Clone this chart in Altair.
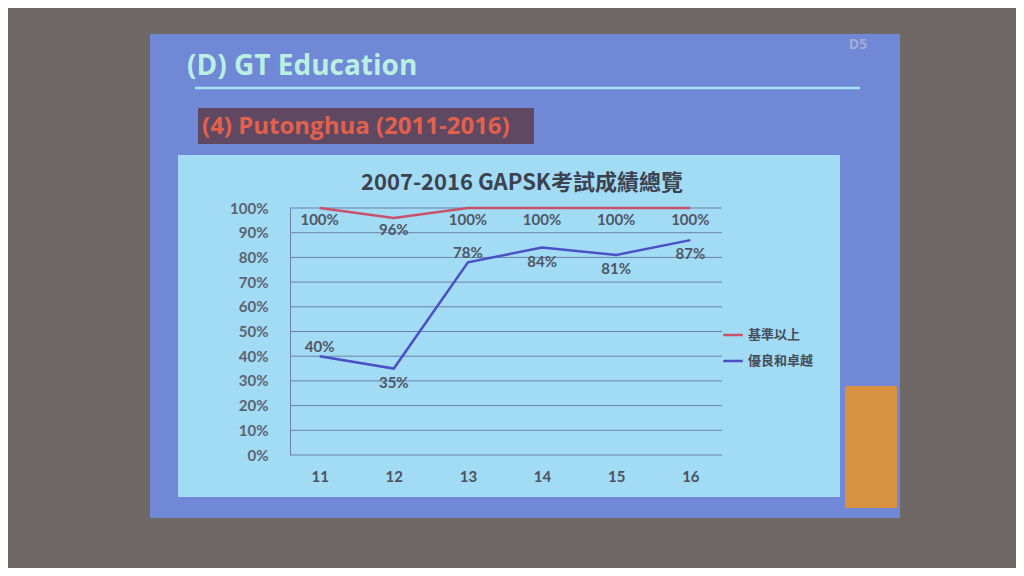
import altair as alt
import pandas as pd

# ---- data ----
years = ["11", "12", "13", "14", "15", "16"]
series_names = ["基準以上", "優良和卓越"]
basic_pct = [100, 96, 100, 100, 100, 100]
excellent_pct = [40, 35, 78, 84, 81, 87]
y_ticks = [0, 10, 20, 30, 40, 50, 60, 70, 80, 90, 100]

chart_title = "2007-2016 GAPSK考試成績總覽"
slide_title = "(D) GT Education"
slide_subtitle = "(4) Putonghua (2011-2016)"
slide_number = "D5"

rows = []
for name, vals in zip(series_names, [basic_pct, excellent_pct]):
    for yr, v in zip(years, vals):
        rows.append({"year": yr, "series": name, "value": v, "label": f"{v}%"})
df = pd.DataFrame(rows)
grid_df = pd.DataFrame({"v": y_ticks})
one = pd.DataFrame({"k": [0]})

W, H = 430, 247
LABEL_FONT = "Lato"
CJK = "Noto Sans CJK TC"
TXT = "#4f5666"

yaxis = alt.Axis(values=y_ticks, labelExpr="datum.value + '%'", ticks=False, grid=False,
                 domain=True, domainColor="#6d7fa6", domainWidth=1, labelPadding=22,
                 labelFont=LABEL_FONT, labelFontSize=15, labelFontWeight="bold",
                 labelColor="#5b6272", title=None, zindex=1)
yscale = alt.Scale(domain=[0, 100], nice=False, zero=True)
xaxis = alt.Axis(labelAngle=0, ticks=False, domain=False, grid=False, labelPadding=14,
                 labelFont=LABEL_FONT, labelFontSize=15, labelFontWeight="bold",
                 labelColor="#4b5262", title=None, zindex=1)
xscale = alt.Scale(type="point", padding=0.4, domain=years)


def deco_rect(color, x1, x2, y1, y2):
    return alt.Chart(one).mark_rect(color=color).encode(
        x=alt.value(x1), x2=alt.value(x2), y=alt.value(y1), y2=alt.value(y2))


def deco_text(text, x, y, **kw):
    return alt.Chart(one).mark_text(text=text, **kw).encode(x=alt.value(x), y=alt.value(y))


slide_bg = deco_rect("#7088d6", -140, 610, -174, 310)
orange = deco_rect("#d8913e", 555, 607, 178, 300)
panel = deco_rect("#a2dcf4", -112, 550, -53, 289)
sub_box = deco_rect("#5e4862", -92, 244, -100, -64)
underline = alt.Chart(one).mark_rule(color="#a8e6f6", strokeWidth=2.5).encode(
    x=alt.value(-95), x2=alt.value(570), y=alt.value(-120))
t_main = deco_text(slide_title, -103, -141, font="Open Sans", fontSize=28, fontWeight="bold",
                   color="#b9f0e2", align="left", baseline="middle")
t_sub = deco_text(slide_subtitle, -88, -81, font="Open Sans", fontSize=24, fontWeight="bold",
                  color="#e2604c", align="left", baseline="middle")
t_num = deco_text(slide_number, 568, -163, font="Open Sans", fontSize=14, fontWeight="bold",
                  color="#a6acd6", align="center", baseline="middle")
t_chart = deco_text(chart_title, 232, -25, font=CJK, fontSize=22, fontWeight="bold",
                    color="#3c4250", align="center", baseline="middle")

grid = alt.Chart(grid_df).mark_rule(color="#6d80a8", strokeWidth=1).encode(
    y=alt.Y("v:Q", scale=yscale, axis=yaxis),
    x=alt.value(0), x2=alt.value(432))

color = alt.Color("series:N", scale=alt.Scale(domain=series_names, range=["#c8506a", "#4b50c4"]),
                  legend=alt.Legend(title=None, orient="none", legendX=432, legendY=116,
                                    symbolType="stroke", symbolStrokeWidth=2.5, symbolSize=380,
                                    labelFont=CJK, labelFontSize=13, labelFontWeight="bold",
                                    labelColor="#454c5c", rowPadding=8))

base = alt.Chart(df).encode(
    x=alt.X("year:O", scale=xscale, axis=xaxis, sort=years),
    y=alt.Y("value:Q", scale=yscale, axis=yaxis),
)
lines = base.mark_line(strokeWidth=2.5).encode(color=color)

lab_kw = dict(font=LABEL_FONT, fontSize=15, fontWeight="bold", color=TXT)
red_labels = base.mark_text(dy=12, **lab_kw).encode(text="label:N").transform_filter(
    alt.datum.series == series_names[0])
blue_above = base.mark_text(dy=-9, **lab_kw).encode(text="label:N").transform_filter(
    (alt.datum.series == series_names[1]) & ((alt.datum.year == "11") | (alt.datum.year == "13")))
blue_below = base.mark_text(dy=14, **lab_kw).encode(text="label:N").transform_filter(
    (alt.datum.series == series_names[1]) & (alt.datum.year != "11") & (alt.datum.year != "13"))

chart = alt.layer(
    slide_bg, orange, panel, sub_box, underline, t_main, t_sub, t_num, t_chart,
    grid, lines, red_labels, blue_above, blue_below,
).properties(
    width=W, height=H,
    autosize=alt.AutoSizeParams(type="none"),
    padding={"left": 282, "top": 200, "right": 296, "bottom": 113},
).configure(background="#6e6866").configure_view(stroke=None)

chart.save("out.html", embed_options={"renderer": "svg", "actions": False})
